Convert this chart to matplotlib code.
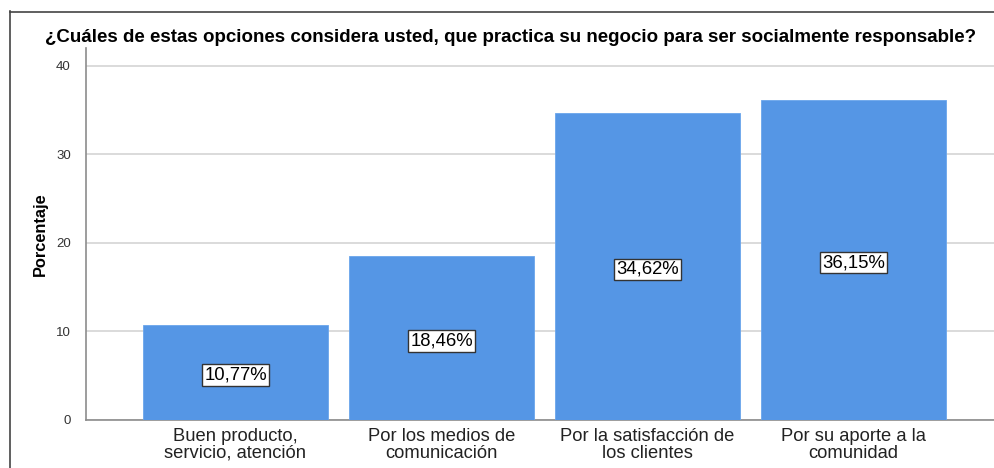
import matplotlib
matplotlib.use("Agg")
import matplotlib.pyplot as plt
from matplotlib.lines import Line2D

categories = ["Buen producto,\nservicio, atención", "Por los medios de\ncomunicación",
              "Por la satisfacción de\nlos clientes", "Por su aporte a la\ncomunidad"]
values = [10.77, 18.46, 34.62, 36.15]
labels = ["10,77%", "18,46%", "34,62%", "36,15%"]
yticks = [0, 10, 20, 30, 40]

plt.rcParams['font.family'] = ['Liberation Sans', 'DejaVu Sans']

W, H = 995, 468
fig = plt.figure(figsize=(W/100, H/100), dpi=100)
ax = fig.add_axes([86/W, 1-420/H, 1-86/W, (420-48)/H])

x = list(range(len(values)))
ax.bar(x, values, width=185/206, color='#5596E5', edgecolor='#6AA5EC', linewidth=0.6, zorder=3)
ax.set_xlim((86-235.5)/206, (995-235.5)/206)
ax.set_ylim(0, 42)
ax.set_yticks(yticks)
ax.set_yticklabels([str(t) for t in yticks], fontsize=9.5, color='#333333')
ax.set_xticks(x)
ax.set_xticklabels(categories, fontsize=13.2, color='#222222', linespacing=0.95)
ax.tick_params(axis='both', length=0)
ax.tick_params(axis='y', pad=11)
ax.tick_params(axis='x', pad=6)
ax.grid(axis='y', color='#D4D4D4', linewidth=1.2, zorder=0)
for s in ['top', 'right']:
    ax.spines[s].set_visible(False)
for s in ['left', 'bottom']:
    ax.spines[s].set_color('#8C8C8C')
    ax.spines[s].set_linewidth(1.2)

ax.set_ylabel("Porcentaje", fontsize=11.8, fontweight='bold', labelpad=6)

for xi, v, lab in zip(x, values, labels):
    ax.text(xi, v/2 - 0.3, lab, ha='center', va='center', fontsize=13.3, zorder=4,
            bbox=dict(boxstyle='square,pad=0.12', facecolor='white', edgecolor='#333333', linewidth=1))

fig.text(511/W, 1-37/H, "¿Cuáles de estas opciones considera usted, que practica su negocio para ser socialmente responsable?",
         ha='center', va='center', fontsize=13.5, fontweight='bold')

fig.add_artist(Line2D([10.5/W, 10.5/W], [0, 1-11/H], color='#444444', linewidth=1.2, transform=fig.transFigure))
fig.add_artist(Line2D([10/W, 1], [1-11.5/H, 1-11.5/H], color='#444444', linewidth=1.2, transform=fig.transFigure))

fig.savefig("out.png", dpi=100)
